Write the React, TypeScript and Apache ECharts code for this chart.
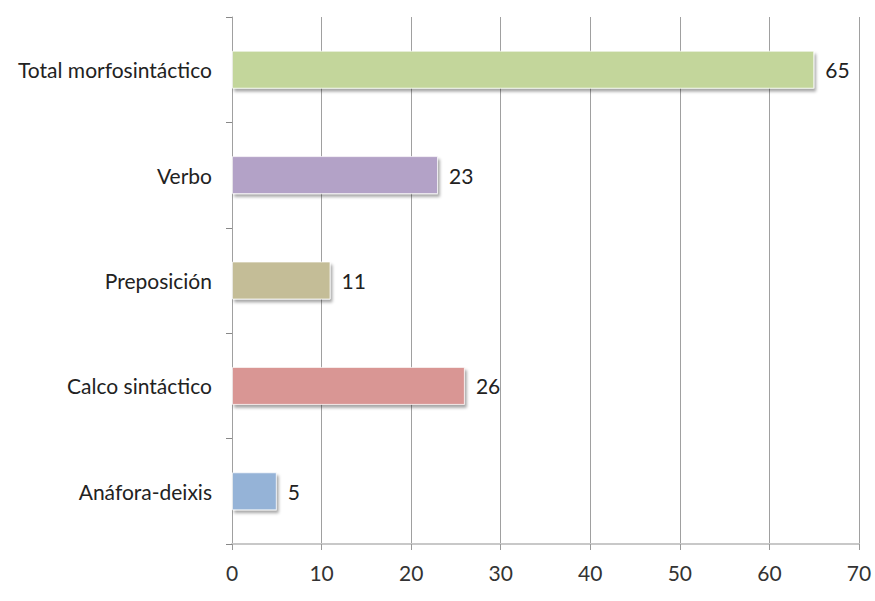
import React, { useEffect, useRef } from "react";
import * as echarts from "echarts";

const categories = ["Anáfora-deixis", "Calco sintáctico", "Preposición", "Verbo", "Total morfosintáctico"];
const values = [5, 26, 11, 23, 65];
const colors = ["#95b3d7", "#d99694", "#c4bd97", "#b3a2c7", "#c3d69b"];
const xTicks = [0, 10, 20, 30, 40, 50, 60, 70];

export default function App() {
  const ref = useRef<HTMLDivElement>(null);
  useEffect(() => {
    if (!ref.current) return;
    const chart = echarts.init(ref.current, null, { renderer: "svg" });
    const font = "Lato, 'Open Sans', sans-serif";
    chart.setOption({
      animation: false,
      backgroundColor: "#ffffff",
      grid: { left: 232, right: 16, top: 17, bottom: 57, containLabel: false },
      xAxis: {
        type: "value",
        min: xTicks[0],
        max: xTicks[xTicks.length - 1],
        interval: 10,
        axisLine: { show: true, lineStyle: { color: "#c8c8c8", width: 2 } },
        axisTick: { show: true, length: 6, lineStyle: { color: "#999" } },
        axisLabel: { color: "#333", fontSize: 21, fontFamily: font, margin: 18 },
        splitLine: { show: true, lineStyle: { color: "#a0a0a0", width: 1 } },
      },
      yAxis: {
        type: "category",
        data: categories,
        axisLine: { show: true, lineStyle: { color: "#a0a0a0", width: 1 } },
        axisTick: { show: true, length: 6, lineStyle: { color: "#888" } },
        axisLabel: { color: "#222", fontSize: 21, fontFamily: font, margin: 20 },
      },
      series: [
        {
          type: "bar",
          barWidth: 38,
          data: values.map((v, i) => ({
            value: v,
            itemStyle: {
              color: colors[i],
              borderColor: "rgba(255,255,255,0.7)",
              borderWidth: 1,
              shadowColor: "rgba(0,0,0,0.35)",
              shadowBlur: 3,
              shadowOffsetX: 2,
              shadowOffsetY: 3,
            },
          })),
          label: {
            show: true,
            position: "right",
            distance: 11,
            color: "#222",
            fontSize: 21,
            fontFamily: font,
          },
        },
      ],
    });
    return () => chart.dispose();
  }, []);
  return <div ref={ref} style={{ width: 875, height: 601, position: "absolute", left: 0, top: 0 }} />;
}
